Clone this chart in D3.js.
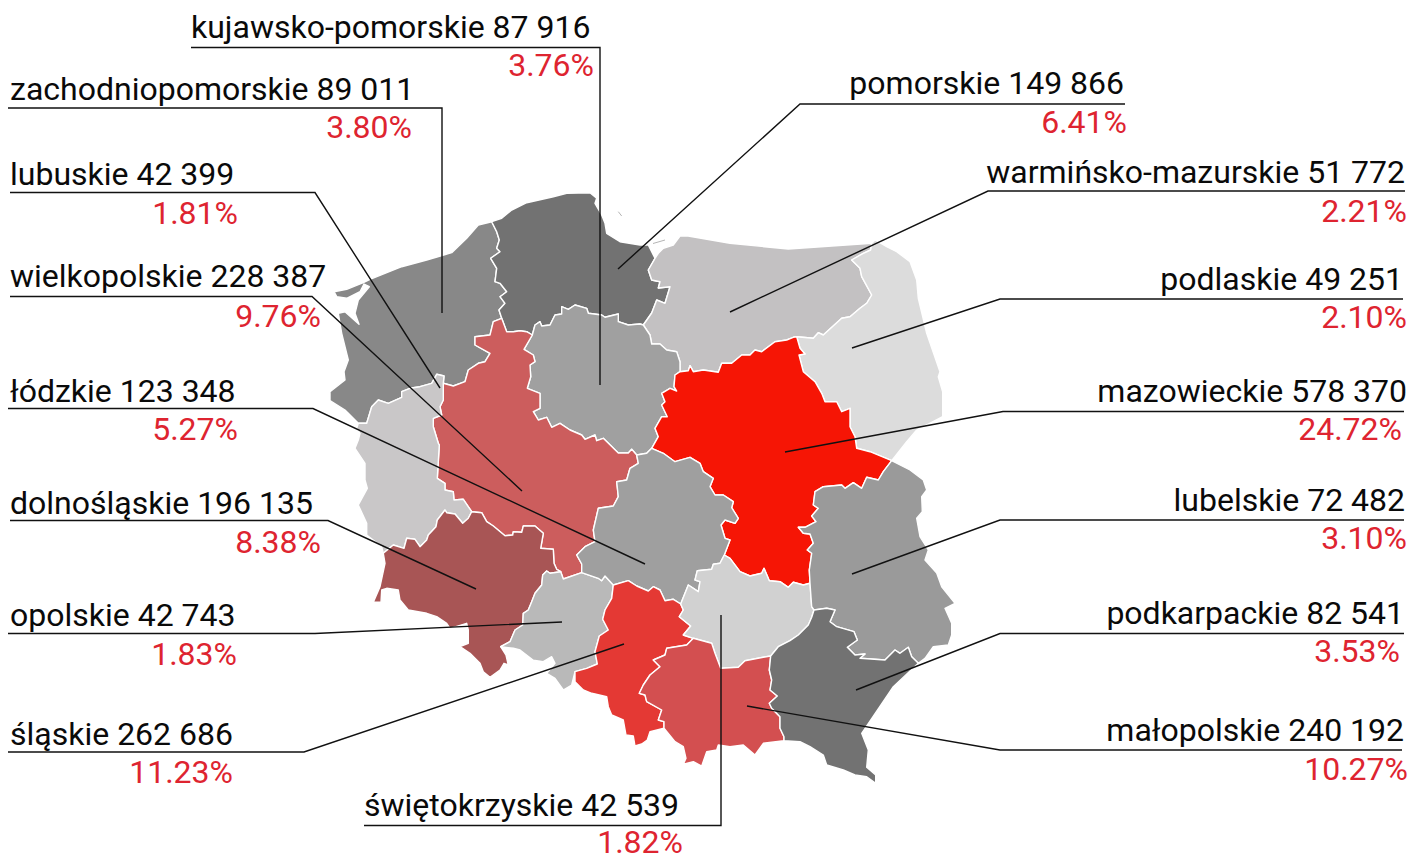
<!DOCTYPE html>
<html>
<head>
<meta charset="utf-8">
<script src="https://cdnjs.cloudflare.com/ajax/libs/d3/7.8.5/d3.min.js"></script>
<style>
    html, body { margin: 0; background: #fff; }
    svg { display: block; }
    text { font-family: Roboto, sans-serif; }
</style>
</head>
<body>
<svg id="chart" width="1411" height="855"></svg>
<script>
var regions = ["kujawsko-pomorskie", "zachodniopomorskie", "lubuskie", "wielkopolskie", "łódzkie", "dolnośląskie", "opolskie", "śląskie", "świętokrzyskie",
    "pomorskie", "warmińsko-mazurskie", "podlaskie", "mazowieckie", "lubelskie", "podkarpackie", "małopolskie"];
var employees = [87916, 89011, 42399, 228387, 123348, 196135, 42743, 262686, 42539,
    149866, 51772, 49251, 578370, 72482, 82541, 240192];
var shares = [3.76, 3.80, 1.81, 9.76, 5.27, 8.38, 1.83, 11.23, 1.82,
    6.41, 2.21, 2.10, 24.72, 3.10, 3.53, 10.27];

// borders between voivodeships, in map units
var arcs = {
    zachCoast: [[358.3,423.3],[345,410],[330,400.7],[330,391.7],[345,380],[344,371.7],[348.3,360],[341.7,333.3],[338.3,313.3],[345,311.7],[359,324.3],[355,313.3],[358.3,300],[369.3,286.7],[364,284],[360,291.7],[346.7,298.3],[336.7,296.7],[334,291.7],[346.7,289.3],[363.3,282.7],[370,279.3],[401.7,266.7],[426.7,260],[451.7,252.7],[466.7,238.3],[478.3,225],[491.7,221.7]],
    zachPom: [[491.7,221.7],[496.7,231.7],[499.3,240],[496.7,248.3],[500,251.7],[490.7,258.3],[496.7,268.3],[495,281.7],[500,283.3],[506.7,291.7],[500,296.7],[505,303.3],[499,310],[501.7,318.3]],
    zachWielk: [[501.7,318.3],[493.3,321.7],[490,335],[475,336.7],[475,345],[490,353.3],[485,361.7],[478.3,363.3],[468.3,370],[465,381.7],[453.3,386],[443.3,383.3]],
    zachLub: [[443.3,383.3],[444,376],[436.7,374.3],[431.7,383.3],[420,386.7],[410,388.3],[401.7,391.7],[401.7,397.3],[388.3,403.3],[378.3,400],[371.7,406.7],[366.7,423.3],[358.3,423.3]],
    pomCoast: [[491.7,221.7],[501.7,218.3],[511.7,210],[526.7,202.7],[553.3,196.7],[566.7,193.3],[590,192.7],[596.7,198.3],[595,203.3],[601.7,215],[605,223.3],[606.7,233.3],[620,241.7],[640,245],[648.3,245],[655,258.3]],
    pomWarm: [[655,258.3],[648.3,270],[651.7,280],[660,281.7],[658.3,288],[670,286.7],[665,303.3],[656.7,300],[651.7,313],[643.3,325]],
    pomWielk: [[501.7,318.3],[506.7,331.7],[513.3,331.7],[520,330.7],[526.7,331.7],[532.3,335]],
    kujTop: [[532.3,335],[535,325],[540,321.7],[541.7,326],[550,325],[555,315],[561.7,314],[561.7,306.7],[568.3,309.3],[575,305],[586.7,308.3],[588.3,313.3],[601.7,315],[605,317.3],[618.3,314],[618.3,321.7],[628.3,325],[640,324],[643.3,325]],
    warmCoast: [[655,258.3],[658.3,253.3],[663.3,248.3],[673.3,245],[680,236],[686.7,235.7],[730,243.3],[788.3,249],[871.7,243.3]],
    warmPodl: [[871.7,243.3],[870.7,250],[863.3,253.3],[851.7,260],[860,268.3],[861.7,276.7],[871.7,295],[866.7,303.3],[860,308.3],[850,316.7],[841.7,318.3],[823.3,335],[818.3,332.7],[813.3,338.3],[796.7,336.7]],
    warmMaz: [[680,371.7],[688.3,370.7],[690,365.7],[693.3,371.7],[703.3,370],[718.3,372.3],[721.7,363.3],[731.7,363.3],[741.7,355],[750,355],[755,350],[761.7,351.7],[775,341.7],[786.7,340],[793.3,337.3],[796.7,336.7]],
    warmKuj: [[643.3,325],[650,335],[651.7,344],[660,344],[666.7,350],[676.7,351.7],[680,361.7],[680,371.7]],
    podlCoast: [[871.7,243.3],[875,240],[886.7,246.7],[896.7,251.7],[910,261.7],[916.7,280],[918.3,298.3],[926.7,333.3],[940,371.7],[938.3,376.7],[942.7,391.7],[942.7,416.7],[916.7,430],[906.7,441.7],[891.7,460.7]],
    mazPodl: [[796.7,336.7],[800,348.3],[805,354],[799,355],[803.3,371.7],[815,381.7],[821.7,393.3],[825,401.7],[836.7,401.7],[841.7,411.7],[850,408.3],[850,426.7],[855,436.7],[856.7,448.3],[870,451.7],[891.7,460.7]],
    kujMaz: [[680,371.7],[675,375],[674,386.7],[676.7,391],[670,388.3],[661.7,393.3],[665,401.7],[661.7,405],[667.3,416.7],[661.7,416.7],[655,428.3],[658.3,436.7],[651.7,448.3]],
    kujLodz: [[651.7,448.3],[646.7,453.3],[636.7,455]],
    kujWielk: [[532.3,335],[524,349.3],[533.3,355],[535,361.7],[530,365],[530.7,376.7],[527.3,388.3],[540,393.3],[540,408.3],[533.3,411.7],[538.3,420],[546.7,417.3],[551.7,427.3],[560,423.3],[570,430],[581.7,435],[585,439.3],[595,435],[596.7,440.7],[603.3,438.3],[618.3,453],[628.3,453],[631.7,449.3],[636.7,455]],
    wielkLodz: [[636.7,455],[638.3,463.3],[630,468.3],[626.7,480],[616.7,481.7],[618.3,496.7],[613.3,506],[598.3,508.3],[593.3,530],[595,541.7],[585,546.7],[576.7,555],[581.7,564],[581.7,572.7]],
    wielkOpol: [[560.7,571.7],[563.3,579],[581.7,572.7]],
    wielkDolno: [[471.7,511.7],[481.7,512.7],[486.7,521.7],[493.3,526],[505,535.7],[512.7,535],[513.3,531.7],[521.7,532.3],[523.3,526],[535,526],[543.3,533.3],[540.7,548.3],[553.3,549.3],[554,563.3],[556.7,569.3],[560.7,571.7]],
    wielkLub: [[443.3,383.3],[443.3,400],[440,406.7],[441.7,415],[433.3,418.3],[433.3,426.7],[438.3,443.3],[439.3,445],[437.3,478.3],[445,483.3],[445,490],[453.3,491.7],[454,500],[463.3,499.3],[471.7,511.7]],
    lubWest: [[358.3,423.3],[356.7,428.3],[360,433.3],[358.3,440],[355,448.3],[365,463.3],[365,480],[367.3,488.3],[358.3,505],[366.7,523.3],[366.7,535],[381.7,546.7],[383.3,553.3]],
    lubDolno: [[471.7,511.7],[468.3,518.3],[462.7,523.3],[455,514],[446.7,512.7],[445,510],[437.3,520],[436,526.7],[428.3,535],[426.7,540],[420,546.7],[415,539.3],[406.7,538.3],[404,548.3],[393.3,545],[383.3,553.3]],
    dolnoOuter: [[383.3,553.3],[385,563.3],[380,586.7],[373.3,602.3],[381,602.3],[381.7,590],[386.7,588.3],[398.3,590],[400,600],[408.3,610],[426.7,613.3],[436.7,616.7],[446.7,623.3],[450,628.3],[466.7,623.3],[468.3,630],[468.3,643.3],[460,646.7],[470,653.3],[480,663.3],[483.3,671.7],[490,677.3],[500,670],[504,663.3],[508.3,665],[506,655],[500.7,646.7]],
    dolnoOpol: [[560.7,571.7],[550,573.3],[546.7,571],[542.7,575],[541.7,585],[535,593.3],[531.7,601.7],[528.3,610],[523.3,613.3],[522.7,625],[515,630],[510,641.7],[500.7,646.7]],
    opolSouth: [[500.7,646.7],[513.3,648.3],[520,650],[533.3,660.3],[543.3,661.7],[551.7,656.7],[555,663.3],[546.7,673.3],[555,678.3],[563.3,690],[571.7,685],[575,671.7]],
    opolSlask: [[613.3,585],[611.7,598.3],[605,610],[602.7,619.3],[608.3,630],[599.3,636],[595,651.7],[597.3,664],[586.7,668.3],[575,671.7]],
    lodzOpol: [[581.7,572.7],[598.3,578.3],[601.7,580.7],[605,576],[613.3,585]],
    lodzSlask: [[613.3,585],[628.3,580.7],[636.7,586],[648.3,591],[653.3,586.7],[660,590],[665,600.7],[673.3,599.3],[680.7,604]],
    lodzSwiet: [[680.7,604],[688.3,585],[698.3,591.7],[700,581.7],[695,580],[697.3,570.7],[711.7,569.3],[713.3,564.3],[720,563.3],[724.3,555]],
    lodzMaz: [[651.7,448.3],[663.3,453.3],[675,461.7],[690,457.3],[700,463.3],[703.3,471.7],[713.3,478.3],[710,486.7],[715,495],[723.3,495],[733.3,501.7],[731.7,507.7],[738.3,518.3],[735,523.3],[725,520],[721,525],[725,538.3],[730,540],[724.3,555]],
    mazSwiet: [[724.3,555],[730,558.3],[740,571.7],[750,576],[761.7,573.3],[764,568.3],[769.3,580.7],[780,581.7],[788.3,587.3],[793.3,582.3],[803.3,585],[810,583.3]],
    mazLub: [[891.7,460.7],[883.3,471.7],[878.3,480],[866.7,477.3],[861.7,488.3],[853.3,482.7],[845,488.3],[841.7,485],[823.3,486.7],[815,491.7],[813.3,505],[818.3,508.3],[811.7,516],[816,521.7],[805,527.3],[798.3,527.3],[803.3,533.3],[810,534],[813.3,543.3],[807.3,550],[811.7,553.3],[809.3,570],[810,583.3]],
    swietLub: [[810,583.3],[811.7,606.7],[814,610]],
    swietPodk: [[814,610],[811.7,617.3],[808.3,625],[798.3,635],[790,640.7],[778.3,646.7],[770.7,656]],
    swietMalop: [[693.3,638.3],[711.7,643.3],[715,653.3],[720.7,668.3],[738.3,667.3],[745,660.7],[763.3,657.3],[770.7,656]],
    swietSlask: [[680.7,604],[683.3,610],[679.3,616.7],[690.7,626],[683.3,635],[693.3,638.3]],
    slaskMalop: [[693.3,638.3],[686.7,645],[666.7,648.3],[665,655],[653.3,660],[660,666.7],[650,675],[643.3,685],[639.3,693.3],[645,695],[646.7,701.7],[661.7,710],[658.3,720],[664,721.7],[664,728.3]],
    slaskSouth: [[575,671.7],[575,681.7],[583.3,690],[591.7,693.3],[606.7,696.7],[608.3,706.7],[611.7,715],[623.3,720],[626,735],[633.3,736],[635,746],[641.7,744],[647.3,740],[650,731.7],[664,728.3]],
    malopSouth: [[664,728.3],[675,741.7],[683.3,746.7],[686,758.3],[683.3,764.3],[693.3,761.7],[701.7,766],[706.7,751.7],[716.7,750],[718.3,745],[730,746.7],[743.3,745],[755,755],[763.3,743.3],[784,740.7]],
    malopPodk: [[770.7,656],[769.3,670],[771.7,680],[770,690],[777.3,696],[769.3,703.3],[771.7,708.3],[780,716.7],[780,728.3],[784,736.7],[784,740.7]],
    podkOuter: [[784,740.7],[800,741.7],[810,746.7],[823.3,755],[826.7,765],[843.3,770],[855,775],[866.7,776.7],[875.7,783.3],[875.7,775],[866.7,767.3],[868.3,750],[861.7,733.3],[893.3,686.7],[918.3,663.3]],
    lubPodk: [[814,610],[826.7,608.3],[835,610],[830,621.7],[836.7,626.7],[854,631.7],[857.3,640],[847.3,647.3],[855,655],[865,654],[860,658.3],[885,660],[895,650],[900,653.3],[908.3,647.3],[911.7,656.7],[918.3,663.3]],
    lubEast: [[891.7,460.7],[910,470],[923.3,480],[926.7,490],[921.7,496.7],[922.3,511.7],[916.7,518.3],[920,536.7],[928.3,550],[925,560],[936.7,573],[941.7,586.7],[955,603.3],[945,608.3],[951.7,623.3],[951.7,635],[948.3,645],[933.3,646.7],[925,658.3],[918.3,663.3]]
};

// bits of coast too thin to fill: Hel and the Vistula spit
var spits = [
    [[618.3,211.7],[621.7,216]],
    [[653,243.5],[665,240]]
];

// which borders close each region, "-" means walked backwards
var rings = [
    ["zachCoast", "zachPom", "zachWielk", "zachLub"],
    ["pomCoast", "pomWarm", "-kujTop", "-pomWielk", "-zachPom"],
    ["warmCoast", "warmPodl", "-warmMaz", "-warmKuj", "-pomWarm"],
    ["podlCoast", "-mazPodl", "-warmPodl"],
    ["kujTop", "warmKuj", "kujMaz", "kujLodz", "-kujWielk"],
    ["warmMaz", "mazPodl", "mazLub", "-mazSwiet", "-lodzMaz", "-kujMaz"],
    ["pomWielk", "kujWielk", "wielkLodz", "-wielkOpol", "-wielkDolno", "-wielkLub", "-zachWielk"],
    ["-zachLub", "wielkLub", "lubDolno", "-lubWest"],
    ["-lubDolno", "wielkDolno", "dolnoOpol", "-dolnoOuter"],
    ["wielkOpol", "lodzOpol", "opolSlask", "-opolSouth", "-dolnoOpol"],
    ["-kujLodz", "lodzMaz", "-lodzSwiet", "-lodzSlask", "-lodzOpol", "-wielkLodz"],
    ["lodzSlask", "swietSlask", "slaskMalop", "-slaskSouth", "-opolSlask"],
    ["lodzSwiet", "mazSwiet", "swietLub", "swietPodk", "-swietMalop", "-swietSlask"],
    ["swietMalop", "malopPodk", "-malopSouth", "-slaskMalop"],
    ["mazLub", "swietLub", "lubPodk", "-lubEast"],
    ["-swietPodk", "lubPodk", "-podkOuter", "-malopPodk"]
];
var ringRegions = ["zachodniopomorskie", "pomorskie", "warmińsko-mazurskie", "podlaskie", "kujawsko-pomorskie", "mazowieckie", "wielkopolskie", "lubuskie",
    "dolnośląskie", "opolskie", "łódzkie", "śląskie", "świętokrzyskie", "małopolskie", "lubelskie", "podkarpackie"];

var regionColors = ["#a0a0a0", "#888888", "#c9c7c8", "#cc5d5d", "#9f9f9f", "#a85555", "#b9b9b9", "#e43934", "#d1d1d1",
    "#727272", "#c3c1c2", "#dcdcdc", "#f61505", "#9a9a9a", "#727272", "#d34f50"];

// label layout in the same order as regions
var nameSide = ["l", "l", "l", "l", "l", "l", "l", "l", "l", "r", "r", "r", "r", "r", "r", "r"];
var nameX = [191, 10, 10, 10, 10, 10, 10, 10, 364, 1124, 1405, 1403, 1407, 1405, 1404, 1404];
var nameY = [38, 100, 185, 287, 402, 514, 626, 745, 816, 94, 183, 290, 402, 511, 624, 741];
var shareX = [594, 412, 238, 321, 238, 321, 237, 233, 683, 1127, 1407, 1407, 1402, 1407, 1400, 1408];
var shareY = [76, 138, 224, 327, 440, 553, 665, 783, 853, 133, 222, 328, 440, 549, 662, 780];
var leaders = [
    [[191,47.5],[600,47.5],[600,385]],
    [[8,108],[442,108],[442,313]],
    [[10,192.5],[315,192.5],[440,388]],
    [[10,296.5],[312,296.5],[522,491]],
    [[8,408.5],[313,408.5],[645,564]],
    [[10,520.5],[328,520.5],[476,589]],
    [[8,633.5],[315,633.5],[562,622]],
    [[8,752],[304,752],[624,644]],
    [[364,825.5],[721,825.5],[721,615]],
    [[1125,104],[800,104],[618,269]],
    [[1405,191],[988,191],[730,312]],
    [[1403,299],[1000,299],[852,348]],
    [[1404,411.5],[1003,411.5],[785,452]],
    [[1404,520],[1000,520],[852,574]],
    [[1404,633.5],[1000,633.5],[856,690]],
    [[1402,750],[1000,750],[747,706]]
];

var svg = d3.select("#chart");

var projection = d3.geoIdentity();
var path = d3.geoPath().projection(projection);

var color = d3.scaleOrdinal().domain(regions).range(regionColors);

var formatCount = d3.formatLocale({decimal: ".", thousands: " ", grouping: [3], currency: ["", ""]}).format(",d");
var formatShare = d3.format(".2f");

// stitch the shared borders into one polygon per region
function buildRing(names) {
    var ring = [];
    names.forEach(function (n) {
        var back = n.charAt(0) === "-";
        var pts = arcs[back ? n.slice(1) : n].slice();
        if (back) pts.reverse();
        ring = ring.concat(ring.length ? pts.slice(1) : pts);
    });
    return ring;
}

var features = rings.map(function (r, i) {
    return {
        type: "Feature",
        properties: {name: ringRegions[i]},
        geometry: {type: "Polygon", coordinates: [buildRing(r)]}
    };
});

svg.append("g")
    .selectAll("path")
    .data(features)
    .enter()
    .append("path")
    .attr("d", path)
    .style("fill", function (d) { return color(d.properties.name); })
    .style("stroke", "#fff")
    .style("stroke-width", 1.4)
    .style("stroke-linejoin", "round");

svg.append("g")
    .selectAll("path")
    .data(spits)
    .enter()
    .append("path")
    .attr("d", function (d) { return path({type: "LineString", coordinates: d}); })
    .style("fill", "none")
    .style("stroke", "#b5b5b5")
    .style("stroke-width", 1);

var leaderLine = d3.line()
    .x(function (d) { return projection(d)[0]; })
    .y(function (d) { return projection(d)[1]; });

svg.append("g")
    .selectAll("path")
    .data(leaders)
    .enter()
    .append("path")
    .attr("d", leaderLine)
    .style("fill", "none")
    .style("stroke", "#111")
    .style("stroke-width", 1.4);

var labels = svg.append("g");

labels.selectAll("text.name")
    .data(regions)
    .enter()
    .append("text")
    .attr("class", "name")
    .attr("x", function (d, i) { return nameX[i]; })
    .attr("y", function (d, i) { return nameY[i]; })
    .attr("text-anchor", function (d, i) { return nameSide[i] === "l" ? "start" : "end"; })
    .style("font-size", "32px")
    .style("fill", "#0a0a0a")
    .text(function (d, i) { return d + " " + formatCount(employees[i]); });

labels.selectAll("text.share")
    .data(shares)
    .enter()
    .append("text")
    .attr("class", "share")
    .attr("x", function (d, i) { return shareX[i]; })
    .attr("y", function (d, i) { return shareY[i]; })
    .attr("text-anchor", "end")
    .style("font-size", "32px")
    .style("fill", "#de2430")
    .text(function (d) { return formatShare(d) + "%"; });
</script>
</body>
</html>
